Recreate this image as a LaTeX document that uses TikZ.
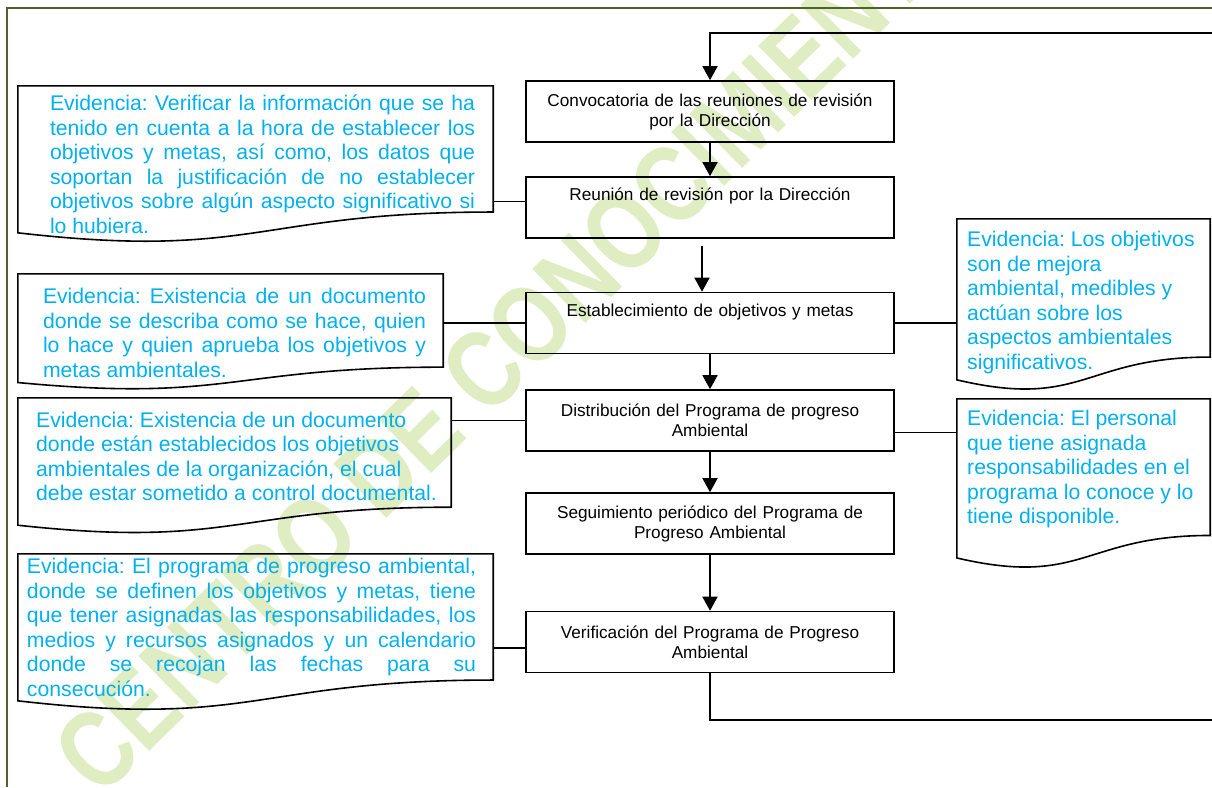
\documentclass[tikz,border=0pt]{standalone}
\usepackage{fontspec}
\setmainfont{Liberation Sans}
\usetikzlibrary{calc,arrows.meta}

\definecolor{cian}{RGB}{0,176,240}
\definecolor{oliva}{RGB}{79,98,40}
\definecolor{marca}{RGB}{224,237,194}

\tikzset{
  paso/.style={draw, line width=1.6pt, minimum width=368pt, minimum height=61pt,
    text width=350pt, align=center, inner sep=0pt, font=\fontsize{17.2}{20}\selectfont},
  doc/.style={inner sep=0pt},
  evid/.style={text=cian, inner sep=0pt, font=\fontsize{21.2}{24.5}\selectfont,
    execute at begin node={\frenchspacing\tolerance=10000\hyphenpenalty=10000}},
  linea/.style={line width=1.6pt},
  flecha/.style={line width=1.6pt, -{Triangle[length=14pt,width=15pt]}}
}

% contorno de "documento" (borde inferior ondulado) alrededor del nodo #1
\newcommand{\documento}[1]{%
  \draw[linea] (#1.north west) -- (#1.north east) -- ($(#1.north east)!0.802!(#1.south east)$)
    .. controls ($(#1.north)!0.802!(#1.south)$) and ($(#1.north)!1.1075!(#1.south)$)
    .. ($(#1.north west)!0.934!(#1.south west)$) -- cycle;}

\begin{document}
\begin{tikzpicture}[x=1pt,y=-1pt]
\useasboundingbox (0,0) rectangle (1212,787);
% marca de agua y marco de la pagina
\begin{scope}
\clip (0,0) rectangle (1212,787);
\node[anchor=base west, rotate=44.5, yscale=1.25, inner sep=0pt, text=marca,
  font=\fontsize{88}{88}\bfseries\selectfont] (agua) at (100,800) {CENTRO DE CONOCIMIENTO};
\end{scope}
\draw[oliva, line width=2.2pt] (7,787) -- (7,8) -- (1212,8);

% pasos del proceso
\node[paso] (b1) at (710,111.5) {Convocatoria de las reuniones de revisión\\por la Dirección};
\node[paso] (b2) at (710,207.5) {Reunión de revisión por la Dirección\\\strut};
\node[paso] (b3) at (710,323) {Establecimiento de objetivos y metas\\\strut};
\node[paso] (b4) at (710,420.5) {Distribución del Programa de progreso\\Ambiental};
\node[paso] (b5) at (710,523.5) {Seguimiento periódico del Programa de\\Progreso Ambiental};
\node[paso] (b6) at (710,642) {Verificación del Programa de Progreso\\Ambiental};

% evidencias: forma (e) y texto (t)
\node[doc, minimum width=475pt, minimum height=157pt] (e1) at (255.5,164.5) {};
\node[evid, text width=425pt, align=justify] (t1) at (262.5,164.5) {Evidencia: Verificar la información que se ha\linebreak tenido en cuenta a la hora de establecer los\linebreak objetivos y metas, así como, los datos que\linebreak soportan la justificación de no establecer\linebreak objetivos sobre algún aspecto significativo si\linebreak lo hubiera.};
\node[doc, minimum width=425pt, minimum height=116pt] (e2) at (230.5,332) {};
\node[evid, text width=383pt, align=justify] (t2) at (234.5,333) {Evidencia: Existencia de un documento\linebreak donde se describa como se hace, quien\linebreak lo hace y quien aprueba los objetivos y\linebreak metas ambientales.};
\node[doc, minimum width=433pt, minimum height=136pt] (e3) at (234.5,466) {};
\node[evid, align=left, anchor=west] (t3) at (36,456.5) {Evidencia: Existencia de un documento\\donde están establecidos los objetivos\\ambientales de la organización, el cual\\debe estar sometido a control documental.};
\node[doc, minimum width=475pt, minimum height=157pt] (e4) at (255.5,632.5) {};
\node[evid, text width=449pt, align=justify] (t4) at (251.5,627.5) {Evidencia: El programa de progreso ambiental,\linebreak donde se definen los objetivos y metas, tiene\linebreak que tener asignadas las responsabilidades, los\linebreak medios y recursos asignados y un calendario\linebreak donde se recojan las fechas para su\linebreak consecución.};
\node[doc, minimum width=253pt, minimum height=172pt] (e5) at (1083.5,305) {};
\node[evid, align=left, anchor=west] (t5) at (967,302.5) {Evidencia: Los objetivos\\son de mejora\\ambiental, medibles y\\actúan sobre los\\aspectos ambientales\\significativos.};
\node[doc, minimum width=253pt, minimum height=170pt] (e6) at (1083.5,484) {};
\node[evid, align=left, anchor=west] (t6) at (967,469.5) {Evidencia: El personal\\que tiene asignada\\responsabilidades en el\\programa lo conoce y lo\\tiene disponible.};
\documento{e1}
\documento{e2}
\documento{e3}
\documento{e4}
\documento{e5}
\documento{e6}

% flechas del proceso y retorno
\coordinate (entrada) at (1212,33);
\coordinate (salida) at (1212,720);
\draw[flecha] (entrada) -| (b1.north);
\draw[flecha] (b1) -- (b2);
\draw[flecha] ([xshift=-8pt,yshift=-7pt]b2.south) -- ([xshift=-8pt]b3.north);
\draw[flecha] (b3) -- (b4);
\draw[flecha] (b4) -- (b5);
\draw[flecha] (b5) -- (b6);
\draw[linea] (b6.south) |- (salida);

% uniones con las evidencias
\coordinate (c1) at ([yshift=6pt]b2.west);
\coordinate (c4) at ([yshift=-6pt]b6.west);
\coordinate (c6) at ([yshift=-12pt]b4.east);
\draw[linea] (c1) -- (c1 -| e1.east);
\draw[linea] (b3.west) -- (b3.west -| e2.east);
\draw[linea] (b4.west) -- (b4.west -| e3.east);
\draw[linea] (c4) -- (c4 -| e4.east);
\draw[linea] (b3.east) -- (b3.east -| e5.west);
\draw[linea] (c6) -- (c6 -| e6.west);
\end{tikzpicture}
\end{document}
